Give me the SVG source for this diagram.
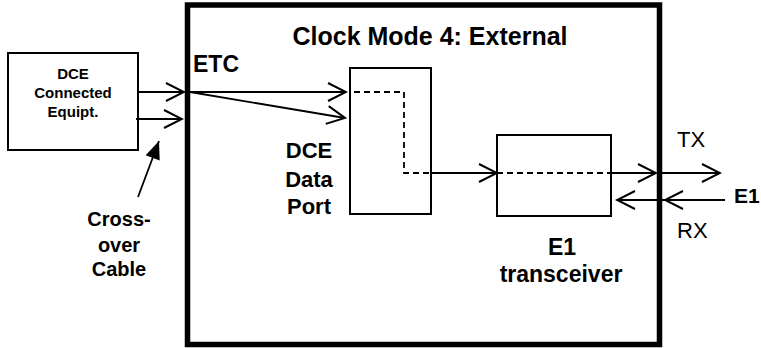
<svg xmlns="http://www.w3.org/2000/svg" width="761" height="348" viewBox="0 0 761 348">
<defs>
<style>
.box{fill:#fff;stroke:#000;stroke-width:2}
.main{fill:none;stroke:#000;stroke-width:5.5}
.ln{fill:none;stroke:#000;stroke-width:1.8}
.dash{fill:none;stroke:#000;stroke-width:1.8;stroke-dasharray:6 4}
.arr{marker-end:url(#chev)}
text{font-family:"Liberation Sans",Arial,sans-serif;fill:#000}
.b{font-weight:bold}
</style>
<marker id="chev" markerUnits="userSpaceOnUse" viewBox="-20 -11 22 22" markerWidth="22" markerHeight="22" refX="0" refY="0" orient="auto">
<path d="M-18,-9 L0,0 L-18,9" fill="none" stroke="#000" stroke-width="2"/>
</marker>
<marker id="tri" markerUnits="userSpaceOnUse" viewBox="-19 -9 20 18" markerWidth="20" markerHeight="18" refX="0" refY="0" orient="auto">
<path d="M-18,-7.5 L0,0 L-18,7.5 Z" fill="#000"/>
</marker>
</defs>
<g id="main-box">
<rect class="main" x="187.5" y="5" width="472" height="339.5"/>
<text class="b" x="430" y="45" font-size="25" text-anchor="middle">Clock Mode 4: External</text>
</g>
<g id="dce-equipment">
<rect class="box" x="8" y="53" width="130" height="97"/>
<text class="b" font-size="15" text-anchor="middle"><tspan x="73" y="79">DCE</tspan><tspan x="73" y="98">Connected</tspan><tspan x="73" y="117">Equipt.</tspan></text>
</g>
<g id="crossover-label">
<text class="b" font-size="20" text-anchor="middle"><tspan x="119" y="226">Cross-</tspan><tspan x="119" y="252">over</tspan><tspan x="119" y="276">Cable</tspan></text>
</g>
<g id="etc-label">
<text class="b" x="193" y="72" font-size="23">ETC</text>
</g>
<g id="dce-data-port">
<rect class="box" x="350" y="68" width="81" height="146"/>
<text class="b" font-size="22" text-anchor="middle"><tspan x="309" y="158">DCE</tspan><tspan x="309" y="187">Data</tspan><tspan x="309" y="214">Port</tspan></text>
</g>
<g id="e1-transceiver">
<rect class="box" x="497" y="135" width="114" height="81"/>
<text class="b" font-size="23" text-anchor="middle"><tspan x="562" y="255">E1</tspan><tspan x="561" y="282">transceiver</tspan></text>
</g>
<g id="e1-line">
<text x="677" y="147" font-size="22">TX</text>
<text x="677" y="238" font-size="22">RX</text>
<text class="b" x="734" y="203" font-size="21">E1</text>
</g>
<g id="connectors">
<path class="ln arr" d="M138,92 H184"/>
<path class="ln arr" d="M136,119 H182"/>
<path class="ln arr" d="M190,92 H346"/>
<path class="ln arr" d="M190,92 L345,118"/>
<path class="dash" d="M354,92 H404 V173 H432"/>
<path class="ln arr" d="M432,173 H497"/>
<path class="dash" d="M497,173 H611"/>
<path class="ln arr" d="M611,173 H656"/>
<path class="ln arr" d="M662,173 H720"/>
<path class="ln arr" d="M725,200 H665"/>
<path class="ln arr" d="M665,200 H617"/>
<path class="ln" d="M138,197 L159,141" marker-end="url(#tri)"/>
</g>
</svg>
